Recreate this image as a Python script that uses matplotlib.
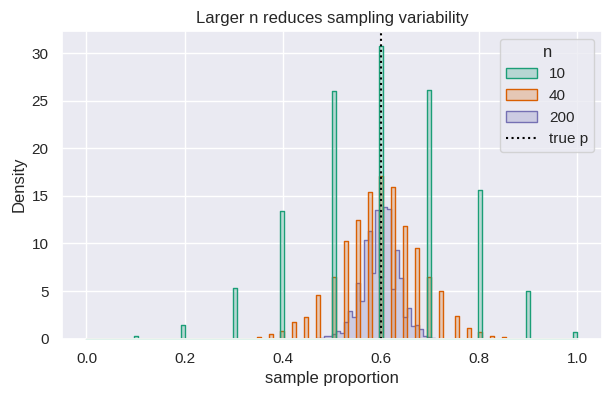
"""Sampling distribution of the sample proportion for three sample sizes."""

import matplotlib

matplotlib.use("Agg")  # headless backend
import matplotlib.pyplot as plt  # noqa: E402
import numpy as np  # noqa: E402
import seaborn as sns  # noqa: E402

TRUE_P = 0.6
N_BINS = 124  # common bins over [0, 1]
SIZES = [10, 40, 200]

# n = 10: one bar per attainable proportion
prop_10 = [0.1, 0.2, 0.3, 0.4, 0.5, 0.6, 0.7, 0.8, 0.9, 1.0]
dens_10 = [0.25, 1.4, 5.3, 13.4, 26.0, 30.8, 26.1, 15.6, 5.0, 0.67]

# n = 40: proportions step by 0.025
prop_40 = [0.35, 0.375, 0.4, 0.425, 0.45, 0.475, 0.5, 0.525, 0.55, 0.575, 0.6,
           0.625, 0.65, 0.675, 0.7, 0.725, 0.75, 0.775, 0.8, 0.825, 0.85]
dens_40 = [0.15, 0.5, 0.8, 1.7, 2.3, 4.55, 6.5, 10.25, 12.45, 15.4, 17.1,
           15.9, 11.8, 9.5, 6.5, 5.0, 2.4, 1.1, 0.67, 0.25, 0.12]

# n = 200: read bin by bin, starting at proportion 0.468
start_200 = 0.468
dens_200 = [0.05, 0.1, 0.28, 0.28, 0.5, 0.8, 0.63, 1.72, 2.9, 2.24,
            5.8, 3.9, 10.4, 11.3, 6.9, 13.5, 6.5, 13.85, 13.6, 5.2,
            9.3, 6.4, 2.3, 3.2, 1.33, 1.4, 1.0, 0.28, 0.2, 0.1]


def _bin_index(p):
    idx = np.floor(np.asarray(p, dtype=float) * N_BINS + 1e-9).astype(int)
    return np.minimum(idx, N_BINS - 1)


def binned(props, dens):
    return np.bincount(_bin_index(props), weights=dens, minlength=N_BINS)


def binned_run(start, dens):
    h = np.zeros(N_BINS)
    i0 = int(_bin_index(start))
    h[i0:i0 + len(dens)] = dens
    return h


sns.set_theme(style="darkgrid")
plt.rcParams["font.family"] = ["Liberation Sans", "DejaVu Sans"]

edges = np.linspace(0, 1, N_BINS + 1)
heights = {
    10: binned(prop_10, dens_10),
    40: binned(prop_40, dens_40),
    200: binned_run(start_200, dens_200),
}
colors = dict(zip(SIZES, sns.color_palette("Dark2", 3)))

fig = plt.figure(figsize=(6.13, 3.96), dpi=100)
ax = fig.add_subplot(111)
fig.subplots_adjust(left=0.101, right=0.982, bottom=0.145, top=0.922)

handles = {}
for n in reversed(SIZES):  # largest n underneath, like seaborn's hue order
    h = heights[n]
    c = colors[n]
    handles[n] = ax.fill_between(edges, 0, np.append(h, h[-1]), step="post",
                                 facecolor=(*c, 0.25), edgecolor=c, linewidth=1,
                                 label=str(n))

vline = ax.axvline(TRUE_P, color="black", ls=":", lw=1.5, label="true p")

top = max(h.max() for h in heights.values())
ax.set_xlim(-0.05, 1.05)
ax.set_ylim(0, top * 1.05)
ax.set_xlabel("sample proportion")
ax.set_ylabel("Density")
ax.set_title("Larger n reduces sampling variability")
ax.legend([handles[n] for n in SIZES] + [vline], [str(n) for n in SIZES] + ["true p"],
          title="n", loc="upper right")

fig.savefig("out.png", dpi=100)
plt.close(fig)
